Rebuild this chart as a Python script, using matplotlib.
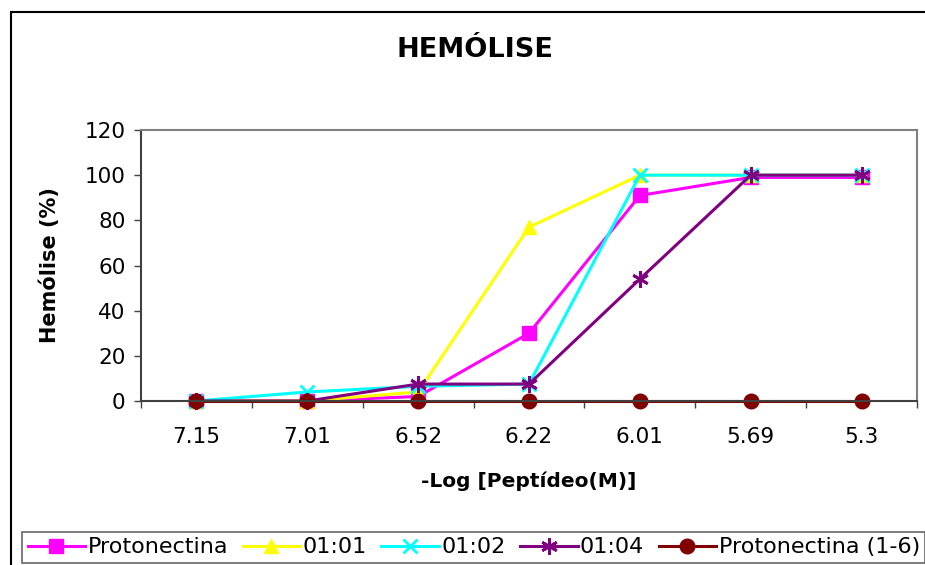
import matplotlib.pyplot as plt
from matplotlib.patches import Rectangle

plt.rcParams['font.family'] = ['DejaVu Sans']

# data
categories = ['7.15', '7.01', '6.52', '6.22', '6.01', '5.69', '5.3']
protonectina = [0, 0, 2, 30, 91, 99, 99]
r_01_01 = [0, 0, 4, 77, 100, 100, 100]
r_01_02 = [0, 4, 6.5, 7.5, 100, 100, 100]
r_01_04 = [0, 0, 7.5, 7.5, 54, 100, 100]
protonectina_1_6 = [0, 0, 0, 0, 0, 0, 0]

series = [
    ('Protonectina', protonectina, '#FF00FF', 's', 9.5),
    ('01:01', r_01_01, '#FFFF00', '^', 10),
    ('01:02', r_01_02, '#00FFFF', 'x', 10),
    ('01:04', r_01_04, '#800080', (6, 2, 0), 12),
    ('Protonectina (1-6)', protonectina_1_6, '#800000', 'o', 10.5),
]


def main():
    fig = plt.figure(figsize=(9.25, 5.65), dpi=100)
    W, H = 925, 565
    ax = fig.add_axes([141 / W, 1 - 401 / H, (917 - 141) / W, (401 - 130) / H])

    x = list(range(len(categories)))
    handles = []
    for name, vals, color, marker, ms in series:
        mew = 2 if marker in ('x',) or isinstance(marker, tuple) else 1
        h, = ax.plot(x, vals, color=color, lw=2.2, marker=marker, ms=ms,
                     mew=mew, mec=color, mfc=color, label=name, clip_on=False)
        handles.append(h)

    ax.set_xlim(-0.5, len(categories) - 0.5)
    ax.set_ylim(0, 120)
    ax.set_yticks(range(0, 121, 20))
    ax.set_xticks(x)
    ax.set_xticklabels(categories)
    ax.set_xticks([i - 0.5 for i in range(len(categories) + 1)], minor=True)
    ax.tick_params(axis='x', which='major', length=0, pad=19, labelsize=15.5)
    ax.tick_params(axis='x', which='minor', length=5, width=1, color='#404040')
    ax.tick_params(axis='y', length=5, width=1, pad=6, labelsize=15.5, color='#404040')

    for side in ('top', 'right'):
        ax.spines[side].set_color('#808080')
        ax.spines[side].set_linewidth(1.5)
    for side in ('left', 'bottom'):
        ax.spines[side].set_color('#404040')
        ax.spines[side].set_linewidth(1.5)

    fig.text(475 / W, 1 - 50 / H, 'HEMÓLISE', ha='center', va='center',
             fontsize=19.5, fontweight='bold')
    fig.text(529 / W, 1 - 481 / H, '-Log [Peptídeo(M)]', ha='center', va='center',
             fontsize=14.5, fontweight='bold')
    fig.text(50 / W, 1 - 265 / H, 'Hemólise (%)', ha='center', va='center',
             rotation=90, fontsize=15, fontweight='bold')

    # outer chart border
    fig.patches.append(Rectangle((11 / W, -0.1), 1.1, 1 - 12 / H + 0.1,
                                 transform=fig.transFigure, fill=False,
                                 edgecolor='black', lw=1.5))

    leg = fig.legend(handles=handles, loc='lower left',
                     bbox_to_anchor=(22 / W, 2 / H), ncol=5, fontsize=16,
                     frameon=True, fancybox=False, handlelength=2.6,
                     handletextpad=0.1, columnspacing=0.65, borderpad=0.25,
                     borderaxespad=0)
    leg.get_frame().set_edgecolor('#404040')
    leg.get_frame().set_linewidth(1.2)

    fig.savefig('out.png', dpi=100)


if __name__ == '__main__':
    main()
